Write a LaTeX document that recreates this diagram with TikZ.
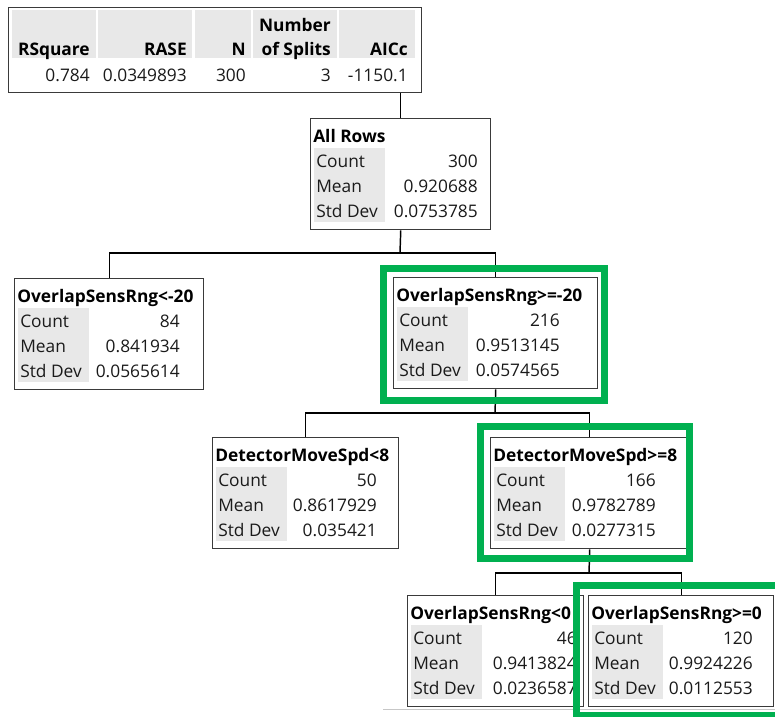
\documentclass[tikz,border=0pt]{standalone}
\usepackage{fontspec}
\setmainfont{Open Sans}

\definecolor{cellgray}{HTML}{E8E8E8}
\definecolor{hlgreen}{HTML}{00B050}
\definecolor{framegray}{HTML}{3A3A3A}
\definecolor{inkblack}{HTML}{1A1A1A}

\tikzset{
  boxframe/.style={draw=framegray, line width=1.1pt, fill=white, rectangle,
                   inner sep=0pt, anchor=north west},
  cell/.style={fill=cellgray, draw=none, rectangle, inner sep=0pt, anchor=north west},
  txt/.style={font=\fontsize{13}{15}\selectfont, text=inkblack, inner sep=0pt,
              text height=9.5pt, text depth=2.5pt},
  ttl/.style={txt, font=\fontsize{13}{15}\selectfont\bfseries, text=black, anchor=west},
  lbl/.style={txt, anchor=west},
  val/.style={txt, anchor=east},
  hdr/.style={txt, font=\fontsize{13}{15}\selectfont\bfseries, text=black, anchor=east},
  conn/.style={draw=black, line width=1.1pt},
  hl/.style={draw=hlgreen, line width=5.25pt},
}

% one split node: name, left, top, right, right edge of values, title, count, mean, std dev
\newcommand\statbox[9]{%
  \pgfmathsetmacro\bw{(#4-#2)*0.75}%
  \node[boxframe, minimum width=\bw pt, minimum height=83.25pt] (#1) at (#2,#3) {};
  \node[cell, minimum width=53.25pt, minimum height=55.5pt] (#1-bg) at (#2+4,#3+30) {};
  \node[ttl] (#1-t) at (#2+3,#3+19.5) {#6};
  \node[lbl] (#1-l1) at (#2+6,#3+44.5) {Count};
  \node[lbl] (#1-l2) at (#2+6,#3+69.5) {Mean};
  \node[lbl] (#1-l3) at (#2+6,#3+95) {Std Dev};
  \node[val] (#1-v1) at (#5,#3+44.5) {#7};
  \node[val] (#1-v2) at (#5,#3+69.5) {#8};
  \node[val] (#1-v3) at (#5,#3+95) {#9};
}

\begin{document}
\begin{tikzpicture}[x=0.75pt,y=-0.75pt]
  \useasboundingbox (0,0) rectangle (775,717);
  \clip (0,0) rectangle (775,717);

  % summary table
  \node[boxframe, minimum width=309.75pt, minimum height=63.75pt] (table) at (8,7) {};
  \node[cell, minimum width=63pt,   minimum height=36pt] (c1) at (12,10) {};
  \node[cell, minimum width=70.5pt, minimum height=36pt] (c2) at (98,10) {};
  \node[cell, minimum width=42pt,   minimum height=36pt] (c3) at (195,10) {};
  \node[cell, minimum width=63pt,   minimum height=36pt] (c4) at (253,10) {};
  \node[cell, minimum width=57pt,   minimum height=36pt] (c5) at (339,10) {};
  \node[hdr] (h4a) at (331,26.5) {Number};
  \node[hdr] (h1) at (90,50.5) {RSquare};
  \node[hdr] (h2) at (187,50.5) {RASE};
  \node[hdr] (h3) at (246,50.5) {N};
  \node[hdr] (h4b) at (331,50.5) {of Splits};
  \node[hdr] (h5) at (408,50.5) {AICc};
  \node[val] (r1) at (90,77) {0.784};
  \node[val] (r2) at (187,77) {0.0349893};
  \node[val] (r3) at (246,77) {300};
  \node[val] (r4) at (331,77) {3};
  \node[val] (r5) at (408,77) {-1150.1};

  % tree nodes
  \statbox{allrows}{310}{118}{490}{478}{All Rows}{300}{0.920688}{0.0753785}
  \statbox{lt20}{14}{278}{203}{180}{OverlapSensRng<-20}{84}{0.841934}{0.0565614}
  \statbox{ge20}{393}{277}{597}{560}{OverlapSensRng>=-20}{216}{0.9513145}{0.0574565}
  \statbox{lt8}{212}{437}{398}{377}{DetectorMoveSpd<8}{50}{0.8617929}{0.035421}
  \statbox{ge8}{490}{437}{688}{656}{DetectorMoveSpd>=8}{166}{0.9782789}{0.0277315}
  \statbox{lt0}{407}{595}{583}{577}{OverlapSensRng<0}{46}{0.9413824}{0.0236587}
  \statbox{ge0}{588}{595}{773}{753}{OverlapSensRng>=0}{120}{0.9924226}{0.0112553}

  % connectors
  \coordinate (j1) at (400,253);
  \coordinate (j2) at (495,413);
  \coordinate (j3) at (589,573);
  \draw[conn] (allrows.north) -- (allrows.north |- table.south);
  \draw[conn] (allrows.south) -- (j1);
  \draw[conn] (lt20.north) |- (j1) -| (ge20.north);
  \draw[conn] (ge20.south) -- (j2);
  \draw[conn] (lt8.north) |- (j2) -| (ge8.north);
  \draw[conn] (ge8.south) -- (j3);
  \draw[conn] (lt0.north) |- (j3) -| (ge0.north);

  % window edge
  \draw[draw=black!22, line width=0.8pt] (383,709.5) -- (775,709.5);

  % highlighted splits
  \draw[hl] (383.5,268.5) rectangle (604.5,400.5);
  \draw[hl] (480.5,426.5) rectangle (689.5,558.5);
  \draw[hl] (576.5,585.5) rectangle (790,715.5);
\end{tikzpicture}
\end{document}
